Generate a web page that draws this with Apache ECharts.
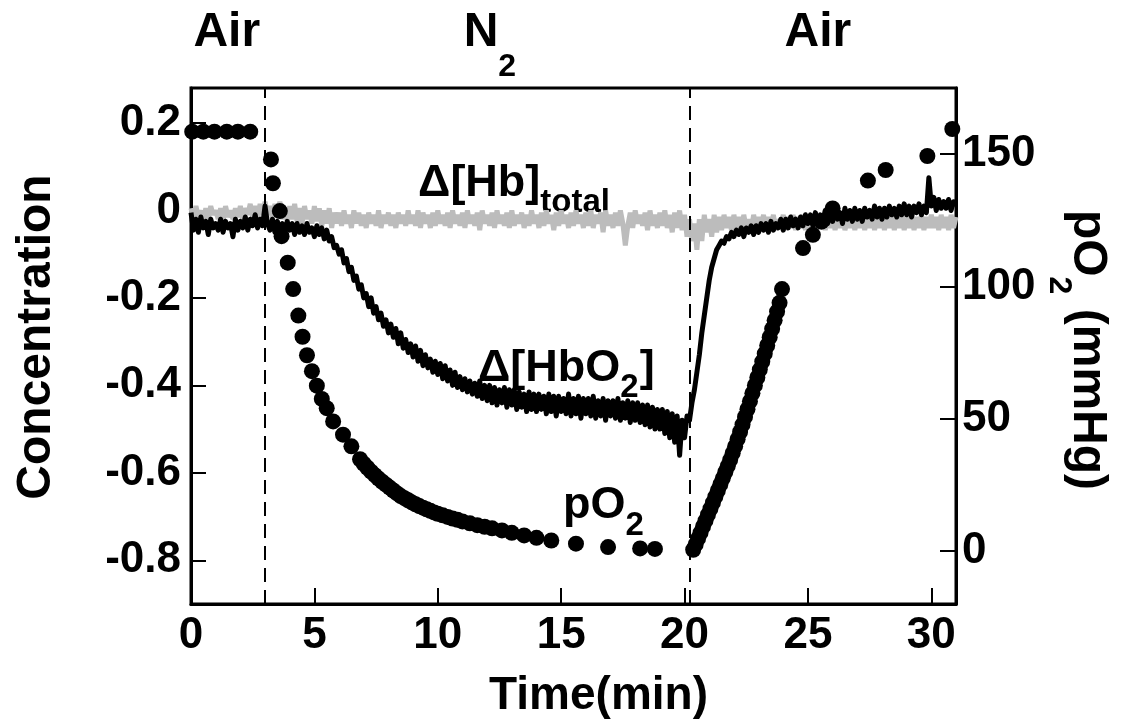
<!DOCTYPE html>
<html><head><meta charset="utf-8">
<script src="https://cdn.jsdelivr.net/npm/echarts@6/dist/echarts.min.js"></script>
<style>html,body{margin:0;padding:0;background:#fff}#c{width:1122px;height:728px}</style>
</head><body><div id="c"></div>
<script>
// ---- data ----
const sampleStep = 0.1; // minutes between trace samples (t = 0 ... 31)
const hbTotal = [
0.005,-0.02,0.01,-0.015,0.0,-0.025,0.005,-0.02,0.01,-0.01,
0.0,-0.02,0.005,-0.025,0.01,-0.015,0.0,-0.02,0.005,-0.015,
0.01,-0.02,0.005,-0.01,0.015,-0.015,0.01,-0.02,0.015,-0.01,
0.02,-0.01,0.01,-0.02,0.015,-0.015,0.02,-0.02,0.005,-0.025,
0.01,-0.02,0.015,-0.025,0.005,-0.03,0.01,-0.02,0.0,-0.03,
0.01,-0.025,0.005,-0.035,0.0,-0.03,0.005,-0.04,-0.005,-0.03,
-0.005,-0.035,0.0,-0.03,-0.01,-0.04,0.0,-0.03,-0.005,-0.035,
-0.01,-0.04,-0.005,-0.03,-0.01,-0.035,0.0,-0.04,-0.01,-0.03,
-0.005,-0.035,-0.01,-0.04,-0.005,-0.03,-0.01,-0.035,0.0,-0.03,
-0.01,-0.035,0.0,-0.04,-0.005,-0.03,-0.01,-0.04,-0.005,-0.035,
0.0,-0.03,-0.01,-0.035,-0.005,-0.04,0.0,-0.03,-0.01,-0.035,
-0.005,-0.04,0.0,-0.03,-0.01,-0.035,-0.005,-0.045,0.0,-0.03,
-0.01,-0.035,-0.005,-0.04,0.0,-0.03,-0.01,-0.035,-0.005,-0.04,
0.0,-0.035,-0.01,-0.03,-0.005,-0.04,-0.01,-0.035,0.0,-0.03,
-0.01,-0.04,-0.005,-0.035,0.0,-0.03,-0.01,-0.045,-0.005,-0.035,
0.0,-0.03,-0.01,-0.04,-0.005,-0.035,0.0,-0.03,-0.01,-0.04,
-0.005,-0.035,0.0,-0.04,-0.01,-0.03,-0.005,-0.05,0.0,-0.035,
-0.01,-0.04,-0.005,-0.035,0.0,-0.03,-0.08,-0.035,-0.005,-0.04,
0.0,-0.03,-0.01,-0.035,-0.005,-0.045,0.0,-0.035,-0.01,-0.04,
-0.005,-0.035,0.0,-0.04,-0.01,-0.05,-0.005,-0.04,0.0,-0.045,
-0.01,-0.06,-0.02,-0.07,-0.03,-0.09,-0.02,-0.07,-0.01,-0.05,
-0.02,-0.06,-0.01,-0.05,-0.015,-0.045,-0.01,-0.04,-0.015,-0.045,
-0.01,-0.04,-0.015,-0.045,-0.01,-0.04,-0.02,-0.045,-0.01,-0.04,
-0.015,-0.04,-0.01,-0.045,-0.015,-0.04,-0.01,-0.045,-0.02,-0.04,
-0.01,-0.045,-0.015,-0.04,-0.01,-0.045,-0.015,-0.04,-0.01,-0.045,
-0.015,-0.04,-0.01,-0.045,-0.02,-0.04,-0.01,-0.045,-0.015,-0.04,
-0.01,-0.045,-0.015,-0.04,-0.01,-0.045,-0.02,-0.04,-0.01,-0.045,
-0.015,-0.04,-0.01,-0.045,-0.015,-0.04,-0.01,-0.045,-0.015,-0.04,
-0.01,-0.045,-0.015,-0.04,-0.01,-0.045,-0.015,-0.04,-0.01,-0.045,
-0.015,-0.04,-0.01,-0.045,-0.015,-0.04,-0.01,-0.045,-0.015,-0.04,
-0.01,-0.04,-0.015,-0.045,-0.01,-0.04,-0.015,-0.045,-0.01,-0.04,
-0.015
];
const hbO2 = [
-0.005,-0.045,-0.02,-0.05,-0.015,-0.04,-0.025,-0.055,-0.02,-0.04,
-0.03,-0.045,-0.02,-0.05,-0.025,-0.04,-0.03,-0.06,-0.02,-0.045,
-0.025,-0.04,-0.015,-0.045,-0.02,-0.035,-0.01,-0.04,-0.02,-0.035,
0.01,-0.03,-0.045,-0.02,-0.05,-0.025,-0.045,-0.03,-0.05,-0.025,
-0.045,-0.03,-0.055,-0.03,-0.05,-0.035,-0.055,-0.03,-0.05,-0.04,
-0.06,-0.035,-0.055,-0.04,-0.065,-0.045,-0.07,-0.06,-0.085,-0.08,
-0.1,-0.09,-0.12,-0.11,-0.14,-0.13,-0.16,-0.15,-0.18,-0.17,
-0.2,-0.19,-0.22,-0.2,-0.235,-0.22,-0.25,-0.235,-0.265,-0.25,
-0.28,-0.26,-0.29,-0.27,-0.305,-0.28,-0.315,-0.295,-0.325,-0.305,
-0.335,-0.31,-0.345,-0.32,-0.355,-0.33,-0.36,-0.34,-0.37,-0.345,
-0.375,-0.35,-0.385,-0.355,-0.39,-0.365,-0.4,-0.37,-0.405,-0.38,
-0.41,-0.385,-0.415,-0.39,-0.42,-0.395,-0.425,-0.39,-0.43,-0.4,
-0.435,-0.4,-0.44,-0.405,-0.445,-0.41,-0.44,-0.405,-0.45,-0.41,
-0.445,-0.41,-0.455,-0.415,-0.45,-0.42,-0.46,-0.415,-0.455,-0.42,
-0.46,-0.42,-0.455,-0.425,-0.465,-0.42,-0.46,-0.425,-0.47,-0.425,
-0.46,-0.43,-0.465,-0.42,-0.47,-0.43,-0.465,-0.425,-0.475,-0.43,
-0.465,-0.43,-0.47,-0.425,-0.475,-0.435,-0.47,-0.43,-0.48,-0.435,
-0.47,-0.435,-0.475,-0.43,-0.48,-0.44,-0.475,-0.435,-0.485,-0.44,
-0.48,-0.44,-0.485,-0.445,-0.49,-0.445,-0.495,-0.45,-0.5,-0.455,
-0.5,-0.455,-0.51,-0.46,-0.52,-0.465,-0.53,-0.47,-0.56,-0.48,
-0.52,-0.47,-0.48,-0.44,-0.41,-0.37,-0.33,-0.28,-0.24,-0.2,
-0.16,-0.13,-0.11,-0.09,-0.08,-0.07,-0.075,-0.06,-0.065,-0.05,
-0.06,-0.045,-0.055,-0.04,-0.06,-0.04,-0.05,-0.035,-0.055,-0.035,
-0.05,-0.03,-0.045,-0.03,-0.05,-0.025,-0.045,-0.03,-0.04,-0.02,
-0.045,-0.02,-0.04,-0.015,-0.035,-0.02,-0.04,-0.015,-0.035,-0.01,
-0.03,-0.01,-0.035,-0.005,-0.03,-0.01,-0.025,0.0,-0.03,-0.005,
-0.025,0.0,-0.02,-0.005,-0.03,0.005,-0.02,0.0,-0.025,0.005,
-0.02,0.0,-0.025,0.005,-0.015,0.0,-0.02,0.01,-0.015,0.005,
-0.02,0.005,-0.015,0.01,-0.01,0.005,-0.015,0.01,-0.01,0.015,
-0.01,0.01,-0.015,0.01,-0.005,0.015,-0.01,0.01,-0.005,0.075,
0.01,0.03,0.0,0.025,0.005,0.02,0.005,0.025,0.0,0.02,
0.01
];
const pO2Time = [
0.05,0.5,0.95,1.45,1.9,2.4,
3.24,3.32,3.6,3.67,3.92,4.14,4.35,4.52,4.7,4.9,5.1,5.3,5.5,5.76,6.16,6.5,6.85,
7.0,7.15,7.3,7.45,7.6,7.75,7.9,8.05,8.2,8.35,8.5,8.65,8.8,8.95,9.1,9.25,9.4,9.55,9.7,9.85,
10.0,10.2,10.4,10.6,10.8,11.0,11.3,11.6,11.9,12.2,12.6,13.0,13.5,14.0,14.6,15.6,16.9,18.2,18.8,
20.35,20.45,20.55,20.65,20.75,20.85,20.95,21.05,21.15,21.25,21.35,21.45,21.55,21.65,21.75,21.85,21.95,
22.05,22.15,22.25,22.35,22.45,22.55,22.65,22.75,22.85,22.95,23.05,23.15,23.25,23.35,23.45,23.55,23.65,23.75,23.85,23.95,
24.8,25.2,25.55,26.0,27.43,28.15,29.84,30.85
];
const pO2Value = [
158.5,158.5,158.5,158.5,158.5,158.5,
148,139,128.5,119,109,99,89,81,74,68,62.5,57.5,54,49,44,39.6,34.7,
33,31.5,30,28.7,27.4,26.2,25.1,24,22.9,21.8,20.8,20,19.2,18.4,17.7,17,16.4,15.8,15.2,14.6,
14.1,13.5,12.9,12.3,11.8,11.2,10.5,9.8,9.2,8.6,7.8,6.9,5.9,5.0,4.0,2.8,1.5,1.0,0.8,
0.5,2.5,4.8,7.0,9.3,11.5,13.8,16.0,18.3,20.6,22.9,25.2,27.5,29.8,32.1,34.5,37,
39.6,42.3,45,47.8,50.7,53.6,56.6,59.6,62.6,65.6,68.6,71.6,74.6,77.7,80.8,84,87.2,90.5,93.8,99,
114.5,119.5,124.5,129.5,140,144,149.3,159.5
];
const xTicks = [0, 5, 10, 15, 20, 25, 30];
const concTicks = [-0.8, -0.6, -0.4, -0.2, 0, 0.2];
const pO2Ticks = [0, 50, 100, 150];
const gasSwitchTimes = [3.0, 20.2];
// phase labels: centre time, pieces [text, isSubscript]
const phaseLabels = [
  {t: 1.45, pieces: [['Air', 0]]},
  {t: 11.75, pieces: [['N', 0], ['2', 1]]},
  {t: 25.4, pieces: [['Air', 0]]}
];
// curve labels anchored in data coordinates (left edge, main-text centre)
const curveLabels = [
  {t: 9.2, v: 0.062, axis: 0, pieces: [['\u0394[Hb]', 0], ['total', 1]]},
  {t: 11.63, v: -0.361, axis: 0, pieces: [['\u0394[HbO', 0], ['2', 1], [']', 0]]},
  {t: 15.07, v: 17, axis: 1, pieces: [['pO', 0], ['2', 1]]}
];

// ---- drawing ----
const FONT = '"Liberation Sans", Arial, Helvetica, sans-serif';
const ctx = document.createElement('canvas').getContext('2d');
function tw(s, size) { ctx.font = 'bold ' + size + 'px ' + FONT; return ctx.measureText(s).width; }
function pieceChildren(pieces, mainSize, subSize, dy) {
  let x = 0; const ch = [];
  pieces.forEach(([s, isSub]) => {
    const size = isSub ? subSize : mainSize;
    ch.push({type: 'text', x: x, y: isSub ? dy : 0, silent: true,
      style: {text: s, font: 'bold ' + size + 'px ' + FONT, fill: '#000', align: 'left', verticalAlign: 'middle'}});
    x += tw(s, size) + (isSub ? 1 : 0);
  });
  return {children: ch, width: x};
}

const chart = echarts.init(document.getElementById('c'), null, {renderer: 'canvas'});
const axisFont = {fontFamily: FONT, fontWeight: 'bold', fontSize: 44, color: '#000'};
const axisLine = {show: true, onZero: false, lineStyle: {color: '#000', width: 3}};

chart.setOption({
  animation: false,
  backgroundColor: '#fff',
  grid: {left: 191, right: 166, top: 88, bottom: 124, show: true, borderColor: '#000', borderWidth: 3, containLabel: false},
  xAxis: {
    type: 'value', min: 0, max: 31,
    name: 'Time(min)', nameLocation: 'middle', nameGap: 69,
    nameTextStyle: Object.assign({}, axisFont, {fontSize: 46, padding: [0, 0, 0, 50]}),
    axisLine: axisLine,
    axisTick: {show: true, inside: true, length: 16, lineStyle: {color: '#000', width: 2}, customValues: xTicks},
    axisLabel: Object.assign({}, axisFont, {margin: 10, customValues: xTicks}),
    splitLine: {show: false}
  },
  yAxis: [{
    type: 'value', min: -0.9, max: 0.28, position: 'left',
    name: 'Concentration', nameLocation: 'middle', nameRotate: 90, nameGap: 130,
    nameTextStyle: Object.assign({}, axisFont, {fontSize: 48, padding: [0, 0, 0, 18]}),
    axisLine: axisLine,
    axisTick: {show: true, inside: true, length: 15, lineStyle: {color: '#000', width: 2}, customValues: concTicks},
    axisLabel: Object.assign({}, axisFont, {margin: 10, customValues: concTicks}),
    splitLine: {show: false}
  }, {
    type: 'value', min: -20, max: 175, position: 'right', alignTicks: false,
    axisLine: axisLine,
    axisTick: {show: true, inside: true, length: 16, lineStyle: {color: '#000', width: 2}, customValues: pO2Ticks},
    axisLabel: Object.assign({}, axisFont, {margin: 6, customValues: pO2Ticks}),
    splitLine: {show: false}
  }],
  series: [{
    name: '\u0394[Hb]total', type: 'line', yAxisIndex: 0, showSymbol: false, symbol: 'none',
    data: hbTotal.map((v, i) => [i * sampleStep, v]),
    lineStyle: {color: '#bcbcbc', width: 5}, z: 2,
    markLine: {silent: true, symbol: 'none', label: {show: false},
      lineStyle: {color: '#000', width: 2, type: [14, 8]},
      data: gasSwitchTimes.map(t => ({xAxis: t}))}
  }, {
    name: '\u0394[HbO2]', type: 'line', yAxisIndex: 0, showSymbol: false, symbol: 'none',
    data: hbO2.map((v, i) => [i * sampleStep, v]),
    lineStyle: {color: '#000', width: 5, join: 'round'}, z: 3
  }, {
    name: 'pO2', type: 'scatter', yAxisIndex: 1, symbolSize: 16,
    data: pO2Time.map((t, i) => [t, pO2Value[i]]),
    itemStyle: {color: '#000', opacity: 1}, z: 4
  }]
});

// text annotations placed through the chart's own scales
const graphics = [];
phaseLabels.forEach(l => {
  const p = pieceChildren(l.pieces, 48, 32, 34);
  const x = chart.convertToPixel({xAxisIndex: 0}, l.t);
  graphics.push({type: 'group', x: x - tw(l.pieces[0][0], 48) / 2, y: 33, children: p.children});
});
curveLabels.forEach(l => {
  const p = pieceChildren(l.pieces, 45, 33, 20);
  const px = chart.convertToPixel({xAxisIndex: 0, yAxisIndex: l.axis}, [l.t, l.v]);
  graphics.push({type: 'group', x: px[0], y: px[1], children: p.children});
});
// right axis title, reading top to bottom
(function () {
  const p = pieceChildren([['pO', 0], ['2', 1], [' (mmHg)', 0]], 48, 32, 28);
  graphics.push({type: 'group', x: 1087, y: 350, rotation: -Math.PI / 2,
    children: [{type: 'group', x: -p.width / 2, y: 0, children: p.children}]});
})();
chart.setOption({graphic: graphics});
</script>
</body></html>
